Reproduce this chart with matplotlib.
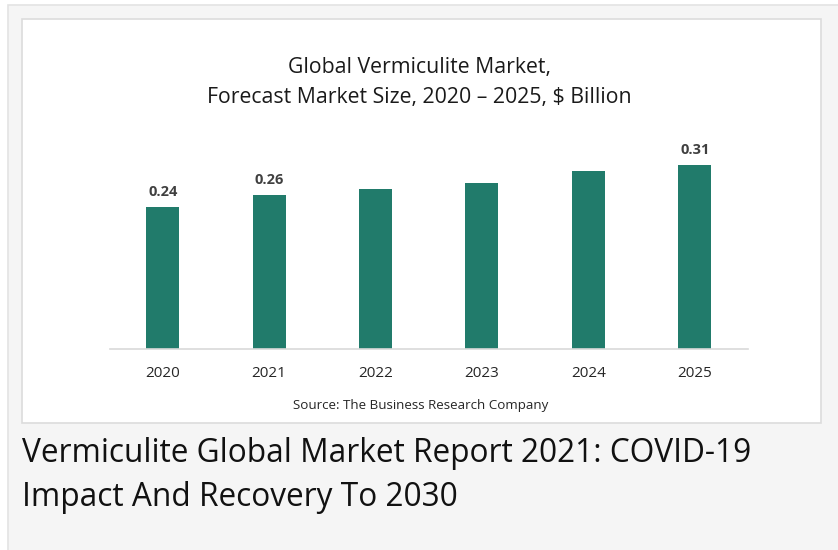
import matplotlib.pyplot as plt
from matplotlib.patches import Rectangle
import numpy as np

years = ['2020', '2021', '2022', '2023', '2024', '2025']
market_size = [0.24, 0.26, 0.27, 0.28, 0.30, 0.31]
shown_labels = ['0.24', '0.26', '', '', '', '0.31']

W, H = 838, 550
fig = plt.figure(figsize=(W / 100, H / 100), dpi=100)
fig.patch.set_facecolor('white')

# page background and white chart panel (pixel coords -> figure fraction)
def px_rect(x0, y0, x1, y1, **kw):
    r = Rectangle((x0 / W, 1 - y1 / H), (x1 - x0) / W, (y1 - y0) / H,
                  transform=fig.transFigure, zorder=-10, **kw)
    fig.patches.append(r)

px_rect(8, 5, 845, 560, facecolor='#f5f5f5', edgecolor='#e3e3e3', lw=1.2)
px_rect(22, 19, 821, 423, facecolor='white', edgecolor='#dcdcdc', lw=1.2)

# axes placed so that baseline sits at y=349px
ymax = 0.35
scale = 592.0
ax = fig.add_axes([109.5 / W, (H - 349) / H, 638.4 / W, ymax * scale / H])
ax.set_facecolor('none')
ax.set_zorder(5)

x = np.arange(len(years))
bars = ax.bar(x, market_size, width=0.31, color='#217b6b', zorder=2)
ax.set_xlim(-0.5, len(years) - 0.5)
ax.set_ylim(0, ymax)

for b, lab in zip(bars, shown_labels):
    if lab:
        ax.text(b.get_x() + b.get_width() / 2, b.get_height() + 0.014, lab,
                ha='center', va='bottom', fontsize=10.5, fontweight='bold',
                color='#404040', family='Open Sans')

ax.set_xticks(x)
ax.set_xticklabels(years, fontsize=11, color='#262626', family='Open Sans')
ax.tick_params(axis='x', length=0, pad=12)
ax.set_yticks([])
for s in ['top', 'right', 'left']:
    ax.spines[s].set_visible(False)
ax.spines['bottom'].set_color('#d9d9d9')
ax.spines['bottom'].set_linewidth(1.2)

fig.text(419 / W, 1 - 68 / H, 'Global Vermiculite Market,', ha='center', va='center',
         fontsize=15.3, color='#1a1a1a', family='Open Sans')
fig.text(419 / W, 1 - 97 / H, 'Forecast Market Size, 2020 \u2013 2025, $ Billion',
         ha='center', va='center', fontsize=15.3, color='#1a1a1a', family='Open Sans')
fig.text(421 / W, 1 - 405 / H, 'Source: The Business Research Company', ha='center',
         va='center', fontsize=9.6, color='#262626', family='Open Sans')

fig.text(22 / W, 1 - 453 / H, 'Vermiculite Global Market Report 2021: COVID-19',
         ha='left', va='center', fontsize=22.8, color='#111111', family='Open Sans')
fig.text(22 / W, 1 - 497 / H, 'Impact And Recovery To 2030',
         ha='left', va='center', fontsize=22.8, color='#111111', family='Open Sans')

fig.savefig('out.png', dpi=100)
